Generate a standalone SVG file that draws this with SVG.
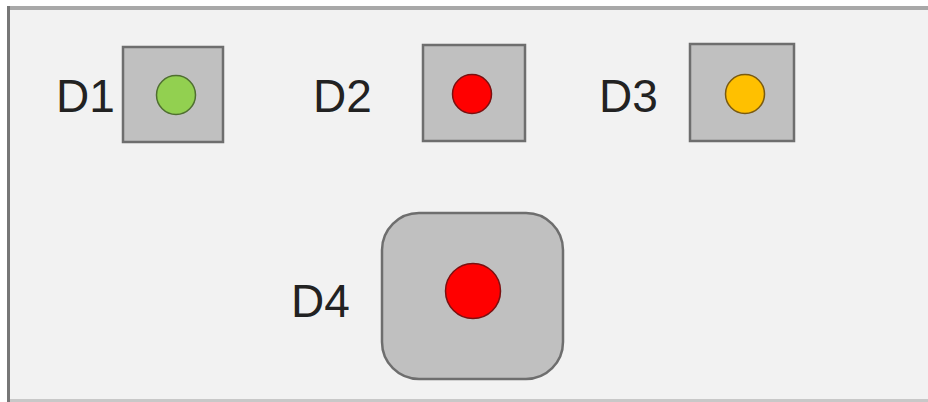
<svg xmlns="http://www.w3.org/2000/svg" width="928" height="402" viewBox="0 0 928 402">
<style>
.lbl{font-family:"Liberation Sans",Arial,sans-serif;font-size:46px;fill:#222}
.box{fill:#c0c0c0;stroke:#6e6e6e;stroke-width:2.5}
.led{stroke-width:1.5}
</style>
<rect x="0" y="0" width="928" height="402" fill="#ffffff"/>
<rect x="7" y="6" width="921" height="396" fill="#f2f2f2"/>
<rect x="7" y="6" width="921" height="4" fill="#a8a8a8"/>
<rect x="7" y="6" width="3" height="396" fill="#777777"/>
<rect x="10" y="399" width="918" height="3" fill="#c8c8c8"/>
<g id="connectors"/>
<g id="D1">
<text class="lbl" x="56" y="112">D1</text>
<rect class="box" x="123" y="47" width="100" height="95"/>
<circle class="led" cx="176" cy="95" r="19.5" fill="#92d050" stroke="#4f6f30"/>
</g>
<g id="D2">
<text class="lbl" x="313" y="112">D2</text>
<rect class="box" x="423" y="45" width="102" height="96"/>
<circle class="led" cx="472" cy="94" r="19.5" fill="#ff0000" stroke="#7a1010"/>
</g>
<g id="D3">
<text class="lbl" x="599" y="112">D3</text>
<rect class="box" x="690" y="44" width="104" height="97"/>
<circle class="led" cx="745" cy="94" r="19.5" fill="#ffc000" stroke="#7a5a10"/>
</g>
<g id="D4">
<text class="lbl" x="291" y="317">D4</text>
<rect class="box" x="382" y="213" width="181" height="166" rx="37" ry="37"/>
<circle class="led" cx="473" cy="291" r="27.5" fill="#ff0000" stroke="#7a1010"/>
</g>
</svg>
